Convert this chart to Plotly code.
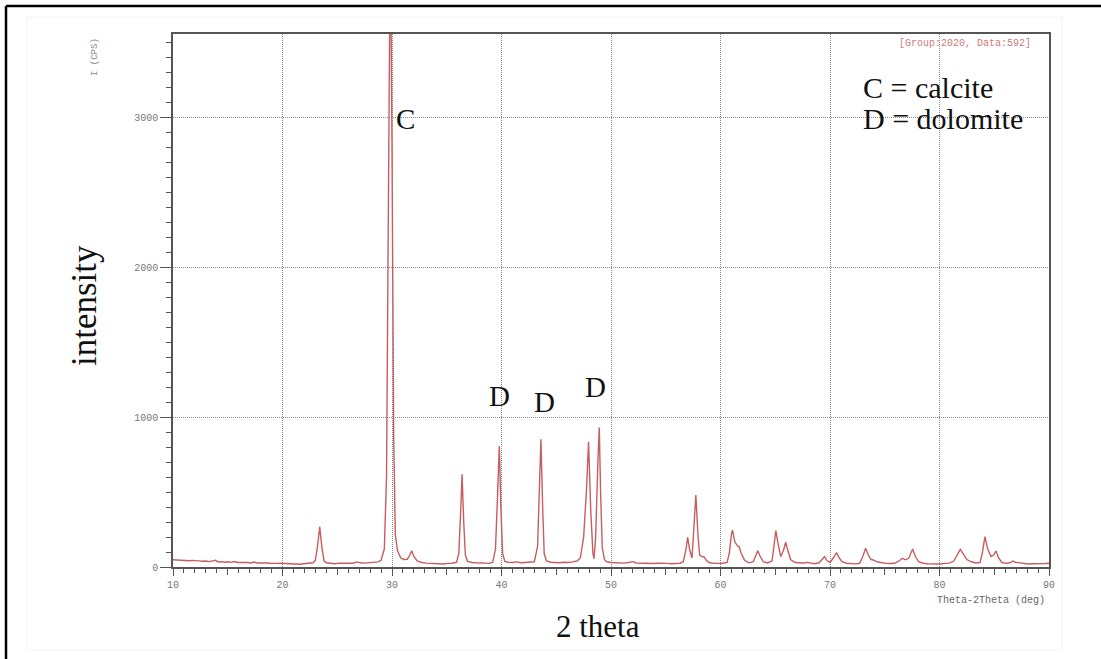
import plotly.graph_objects as go

# ---- data ----
two_theta = [
    10.0, 10.3, 10.6, 10.9, 11.2, 11.5, 11.8, 12.1, 12.4, 12.7, 13.0, 13.3, 13.6, 13.9, 14.1, 14.4,
    14.7, 15.0, 15.3, 15.6, 15.9, 16.2, 16.5, 16.8, 17.1, 17.4, 17.7, 18.0, 18.3, 18.6, 18.9, 19.2,
    19.5, 19.8, 20.1, 20.4, 20.7, 21.0, 21.3, 21.6, 21.9, 22.2, 22.5, 22.8, 23.0, 23.2, 23.4, 23.6,
    23.8, 24.0, 24.4, 24.8, 25.2, 25.6, 26.0, 26.4, 26.8, 27.1, 27.5, 27.9, 28.3, 28.7, 29.0, 29.3,
    29.5, 29.7, 29.85, 30.0, 30.15, 30.3, 30.5, 30.8, 31.1, 31.4, 31.6, 31.8, 32.0, 32.3, 32.7, 33.1,
    33.5, 33.9, 34.3, 34.7, 35.1, 35.5, 35.9, 36.1, 36.3, 36.4, 36.55, 36.7, 36.9, 37.3, 37.7, 38.1,
    38.5, 38.9, 39.2, 39.45, 39.65, 39.8, 39.95, 40.1, 40.3, 40.6, 41.0, 41.4, 41.8, 42.2, 42.6, 43.0,
    43.3, 43.5, 43.6, 43.75, 43.9, 44.1, 44.5, 44.9, 45.3, 45.7, 46.1, 46.5, 46.9, 47.2, 47.5, 47.75,
    47.95, 48.15, 48.35, 48.45, 48.6, 48.8, 48.93, 49.05, 49.2, 49.4, 49.6, 50.0, 50.4, 50.8, 51.2, 51.6,
    52.0, 52.3, 52.7, 53.1, 53.5, 53.9, 54.3, 54.7, 55.1, 55.5, 55.9, 56.3, 56.6, 56.85, 57.0, 57.2,
    57.4, 57.55, 57.75, 57.95, 58.1, 58.3, 58.5, 58.7, 59.0, 59.4, 59.8, 60.2, 60.6, 60.8, 61.0, 61.1,
    61.3, 61.55, 61.7, 61.9, 62.2, 62.6, 63.0, 63.2, 63.4, 63.6, 63.9, 64.3, 64.7, 64.9, 65.05, 65.2,
    65.5, 65.75, 65.95, 66.15, 66.4, 66.8, 67.2, 67.6, 67.9, 68.2, 68.6, 69.0, 69.3, 69.5, 69.7, 70.0,
    70.3, 70.6, 70.85, 71.1, 71.5, 71.9, 72.3, 72.7, 73.0, 73.25, 73.5, 73.75, 73.95, 74.3, 74.7, 75.1,
    75.5, 75.9, 76.3, 76.6, 76.9, 77.2, 77.55, 77.8, 78.1, 78.5, 78.9, 79.3, 79.7, 80.1, 80.5, 80.9,
    81.3, 81.6, 81.9, 82.2, 82.5, 82.9, 83.3, 83.7, 83.9, 84.15, 84.4, 84.7, 84.95, 85.15, 85.4, 85.7,
    86.1, 86.5, 86.7, 86.9, 87.3, 87.7, 88.1, 88.5, 88.9, 89.3, 89.7, 90.0,
]
intensity = [
    48, 46, 47, 44, 45, 42, 44, 40, 41, 38, 40, 36, 38, 45, 34, 36,
    32, 35, 31, 37, 30, 31, 28, 30, 27, 33, 27, 28, 26, 27, 25, 27,
    24, 25, 23, 26, 22, 21, 20, 18, 22, 24, 23, 28, 45, 140, 268, 130,
    40, 28, 25, 22, 26, 24, 27, 25, 34, 28, 26, 29, 30, 34, 45, 120,
    600, 2500, 4300, 2800, 900, 220, 110, 60, 50, 52, 75, 108, 70, 40, 30, 26,
    24, 20, 22, 20, 24, 25, 32, 90, 420, 620, 300, 80, 38, 30, 28, 26,
    27, 24, 32, 120, 500, 808, 380, 90, 38, 32, 30, 34, 28, 30, 28, 35,
    140, 600, 853, 420, 90, 40, 32, 30, 28, 32, 30, 34, 40, 60, 200, 500,
    837, 380, 90, 55, 200, 700, 931, 500, 130, 50, 35, 30, 27, 28, 26, 30,
    36, 27, 25, 26, 24, 23, 25, 22, 24, 22, 23, 25, 35, 120, 198, 110,
    60, 250, 481, 200, 80, 70, 68, 45, 28, 24, 22, 25, 30, 90, 220, 247,
    170, 140, 136, 90, 45, 28, 35, 80, 109, 75, 35, 27, 40, 150, 243, 180,
    70, 110, 165, 110, 50, 30, 26, 27, 31, 25, 22, 28, 50, 69, 45, 30,
    60, 96, 60, 35, 25, 22, 21, 25, 70, 125, 80, 50, 47, 35, 28, 24,
    23, 25, 40, 58, 48, 60, 120, 70, 35, 25, 22, 20, 22, 20, 24, 26,
    40, 80, 118, 85, 50, 35, 27, 30, 90, 203, 120, 70, 80, 107, 60, 30,
    24, 30, 40, 32, 28, 22, 20, 22, 21, 24, 23, 25,
]

x_tick_vals = [10, 20, 30, 40, 50, 60, 70, 80, 90]
x_mid_ticks = [15, 25, 35, 45, 55, 65, 75, 85]
y_tick_vals = [0, 1000, 2000, 3000]

peak_labels = ["C", "D", "D", "D"]
peak_label_x = [31.2, 39.85, 43.9, 48.6]
peak_label_y = [2990, 1140, 1100, 1200]

legend_lines = ["C = calcite", "D = dolomite"]

X_RANGE = [10, 90]
Y_RANGE = [0, 3560]

# ---- figure ----
fig = go.Figure()
fig.add_trace(go.Scatter(
    x=two_theta, y=intensity, mode="lines",
    line=dict(color="#c65e60", width=1.4),
    hoverinfo="skip", showlegend=False,
))
# invisible trace for the overlay axis (carries the mid ticks at 5s)
fig.add_trace(go.Scatter(x=X_RANGE, y=[None, None], xaxis="x2", yaxis="y",
                         mode="lines", showlegend=False, hoverinfo="skip"))

mono = "Liberation Mono"
serif = "Liberation Serif"

fig.update_layout(
    width=1101, height=659,
    margin=dict(l=173, r=52, t=34, b=92),
    paper_bgcolor="white", plot_bgcolor="white",
    showlegend=False,
    xaxis=dict(
        range=X_RANGE, tickmode="array", tickvals=x_tick_vals,
        ticks="outside", ticklen=7, tickcolor="#555", tickwidth=1,
        tickfont=dict(family=mono, size=10, color="#777"),
        showgrid=True, gridcolor="#8c8c8c", griddash="1px,1px", gridwidth=1,
        showline=True, linecolor="#555", linewidth=1.5, mirror=True,
        zeroline=False,
        minor=dict(dtick=1, tick0=10, ticks="outside", ticklen=4,
                   tickcolor="#555", showgrid=False),
    ),
    xaxis2=dict(
        range=X_RANGE, overlaying="x", side="bottom", tickmode="array",
        tickvals=x_mid_ticks, ticks="outside", ticklen=7, tickcolor="#555",
        showticklabels=False, showgrid=False, showline=False, zeroline=False,
    ),
    yaxis=dict(
        range=Y_RANGE, tickmode="array", tickvals=y_tick_vals,
        ticks="outside", ticklen=11, tickcolor="#555", tickwidth=1,
        tickfont=dict(family=mono, size=10, color="#777"),
        showgrid=True, gridcolor="#8c8c8c", griddash="1px,1px", gridwidth=1,
        showline=True, linecolor="#555", linewidth=1.5, mirror=True,
        zeroline=False,
        minor=dict(dtick=100, tick0=0, ticks="outside", ticklen=5,
                   tickcolor="#555", showgrid=False),
    ),
)

def px_x(px):
    return (px - 173) / 876.0

def px_y(py):
    return (567 - py) / 533.0

annotations = []
for t, xv, yv in zip(peak_labels, peak_label_x, peak_label_y):
    annotations.append(dict(x=xv, y=yv, xref="x", yref="y", text=t, showarrow=False,
                            font=dict(family=serif, size=29, color="#111")))

for i, t in enumerate(legend_lines):
    annotations.append(dict(x=px_x(861), y=px_y(87 + 31 * i), xref="paper", yref="paper",
                            text=t, showarrow=False, xanchor="left", yanchor="middle",
                            font=dict(family=serif, size=30, color="#111")))

annotations += [
    dict(x=px_x(1033), y=px_y(43), xref="paper", yref="paper", text="[Group:2020, Data:592]",
         showarrow=False, xanchor="right", yanchor="middle",
         font=dict(family=mono, size=10, color="#d07a7a")),
    dict(x=px_x(95), y=px_y(57), xref="paper", yref="paper", text="I (CPS)", textangle=-90,
         showarrow=False, xanchor="center", yanchor="middle",
         font=dict(family=mono, size=9, color="#888")),
    dict(x=px_x(1047), y=px_y(600), xref="paper", yref="paper", text="Theta-2Theta (deg)",
         showarrow=False, xanchor="right", yanchor="middle",
         font=dict(family=mono, size=10, color="#666")),
    dict(x=px_x(598), y=px_y(626), xref="paper", yref="paper", text="2 theta",
         showarrow=False, xanchor="center", yanchor="middle",
         font=dict(family=serif, size=31, color="#111")),
    dict(x=px_x(84), y=px_y(306), xref="paper", yref="paper", text="intensity", textangle=-90,
         showarrow=False, xanchor="center", yanchor="middle",
         font=dict(family=serif, size=35, color="#111")),
]
fig.update_layout(annotations=annotations)

# outer black frame (left and top edges visible) and faint inner panel
fig.add_shape(type="rect", xref="paper", yref="paper",
              x0=px_x(27), x1=px_x(1062), y0=px_y(650), y1=px_y(17),
              line=dict(color="#f3f3f3", width=1), layer="below")
fig.add_shape(type="line", xref="paper", yref="paper",
              x0=px_x(6), x1=px_x(6), y0=px_y(6), y1=px_y(700),
              line=dict(color="black", width=2.5))
fig.add_shape(type="line", xref="paper", yref="paper",
              x0=px_x(6), x1=px_x(1150), y0=px_y(6), y1=px_y(6),
              line=dict(color="black", width=2.5))

fig.write_html("out.html", config={"displayModeBar": False},
               post_script="document.body.style.margin='0';document.body.style.overflow='hidden';")
